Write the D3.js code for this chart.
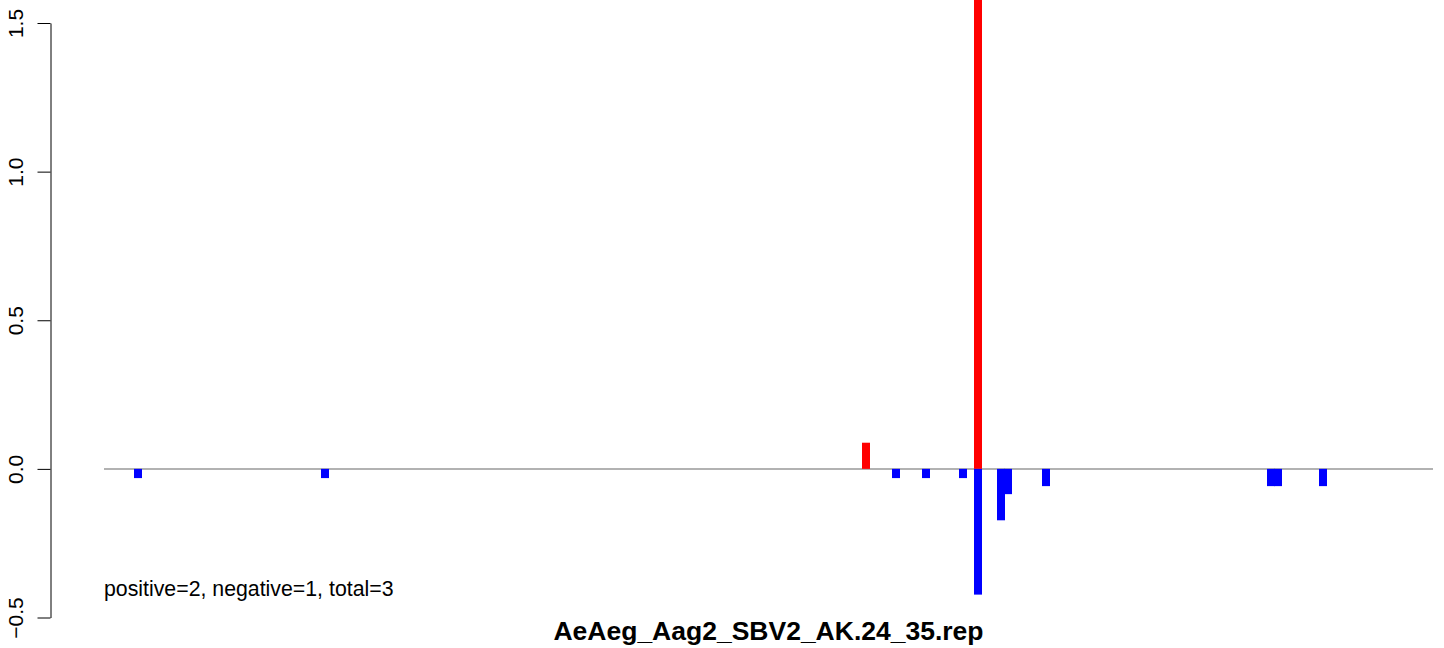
<!DOCTYPE html>
<html>
<head>
<meta charset="utf-8">
<script src="https://cdn.jsdelivr.net/npm/d3@7"></script>
<style>
  html, body { margin: 0; padding: 0; background: #fff; }
  svg { display: block; font-family: "Liberation Sans", Arial, Helvetica, sans-serif; }
</style>
</head>
<body>
<svg id="chart" width="1444" height="648"></svg>
<script>
// ---- data ----
const titleText = "AeAeg_Aag2_SBV2_AK.24_35.rep";
const summaryText = "positive=2, negative=1, total=3";
const yTicks = [-0.5, 0, 0.5, 1.0, 1.5];
const seqLength = 1329;      // extent of the baseline in position units
const binWidth = 8;          // width of a bar in position units
// positive-strand (red) bars
const posStarts = [758, 870];
const posValues = [0.088, 1.6];
// negative-strand (blue) bars
const negStarts = [30, 217, 788, 818, 855, 870, 893, 900, 938, 1163, 1170, 1215];
const negValues = [-0.031, -0.031, -0.031, -0.031, -0.031, -0.423, -0.173, -0.085, -0.058, -0.058, -0.058, -0.058];

// ---- layout ----
const svg = d3.select("#chart");
const x = d3.scaleLinear().domain([0, seqLength]).range([104, 1433]);
const y = d3.scaleLinear().domain([-0.5, 1.5]).range([617.5, 23]);
const plotTop = 0, plotBottom = 641, plotLeft = 50.5, plotRight = 1444;

svg.append("defs").append("clipPath").attr("id", "plotclip")
  .append("rect").attr("x", plotLeft).attr("y", plotTop)
  .attr("width", plotRight - plotLeft).attr("height", plotBottom - plotTop);

const plot = svg.append("g").attr("clip-path", "url(#plotclip)");

// baseline
plot.append("line")
  .attr("x1", x(0)).attr("x2", x(seqLength))
  .attr("y1", y(0)).attr("y2", y(0))
  .attr("stroke", "#999").attr("stroke-width", 1.5);

const pos = posStarts.map((s, i) => ({ s, v: posValues[i] }));
const neg = negStarts.map((s, i) => ({ s, v: negValues[i] }));

plot.selectAll("rect.pos").data(pos).enter().append("rect")
  .attr("class", "pos")
  .attr("x", d => x(d.s)).attr("width", d => x(d.s + binWidth) - x(d.s))
  .attr("y", d => y(d.v)).attr("height", d => y(0) - y(d.v))
  .attr("fill", "#ff0000");

plot.selectAll("rect.neg").data(neg).enter().append("rect")
  .attr("class", "neg")
  .attr("x", d => x(d.s)).attr("width", d => x(d.s + binWidth) - x(d.s))
  .attr("y", y(0)).attr("height", d => y(d.v) - y(0))
  .attr("fill", "#0000ff");

// y axis
const axis = svg.append("g")
  .attr("transform", `translate(${plotLeft},0)`)
  .call(d3.axisLeft(y).tickValues(yTicks).tickSize(13).tickSizeOuter(0)
    .tickFormat(d3.format(".1f")));
axis.select(".domain").attr("stroke", "#000").attr("stroke-width", 1);
axis.selectAll(".tick line").attr("stroke", "#000").attr("stroke-width", 1);
axis.selectAll(".tick text")
  .attr("transform", "rotate(-90)")
  .attr("x", 0).attr("y", -28).attr("dy", 0)
  .attr("text-anchor", "middle")
  .attr("fill", "#000")
  .style("font-size", "21px")
  .style("font-family", "'Liberation Sans', Arial, sans-serif");

// summary text
svg.append("text")
  .attr("x", 104).attr("y", 596)
  .style("font-size", "21.3px")
  .attr("fill", "#000")
  .text(summaryText);

// title
svg.append("text")
  .attr("x", 768.5).attr("y", 640)
  .attr("text-anchor", "middle")
  .style("font-size", "26.5px").style("font-weight", "bold")
  .attr("fill", "#000")
  .text(titleText);
</script>
</body>
</html>
